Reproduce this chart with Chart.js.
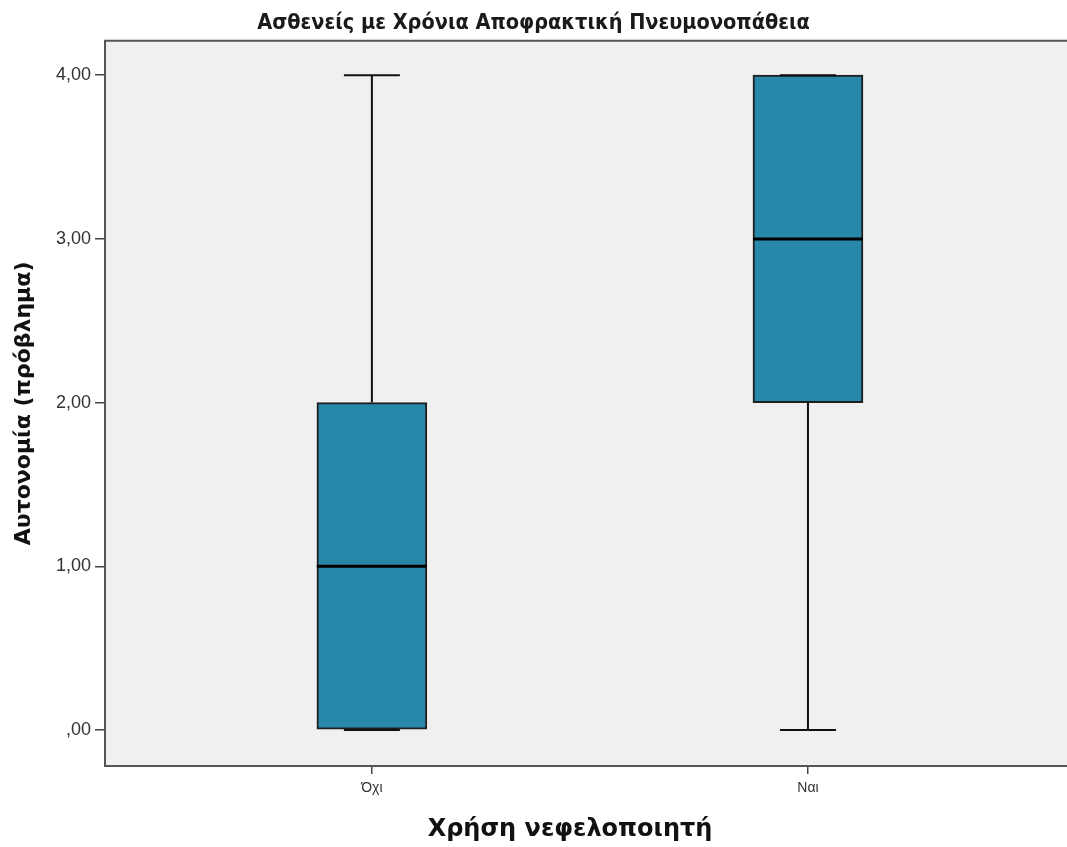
<!DOCTYPE html>
<html>
<head>
<meta charset="utf-8">
<script src="https://cdn.jsdelivr.net/npm/chart.js@4.4.1/dist/chart.umd.min.js"></script>
<style>
  html, body { margin: 0; padding: 0; background: #ffffff; }
  #wrap { width: 1067px; height: 847px; position: relative; }
</style>
</head>
<body>
<div id="wrap"><canvas id="c"></canvas></div>
<script>
// Box-plot summary per group
const categories   = ['Όχι', 'Ναι'];
const whiskerLow   = [0, 0];
const q1           = [0, 2];
const median       = [1, 3];
const q3           = [2, 4];
const whiskerHigh  = [4, 4];

// Y axis ticks and their labels
const yTicks      = [0, 1, 2, 3, 4];
const yTickLabels = [',00', '1,00', '2,00', '3,00', '4,00'];

const BOX_FILL   = '#2788aa';
const BOX_EDGE   = '#1e1e1e';
const FRAME      = '#555555';
const CAP_HALF   = 28;

const boxPlotPlugin = {
  id: 'boxPlot',
  beforeDraw(chart) {
    const { ctx, chartArea: a } = chart;
    ctx.save();
    ctx.fillStyle = '#f0f0f0';
    ctx.fillRect(a.left, a.top, a.right - a.left, a.bottom - a.top);
    ctx.restore();
  },
  afterDatasetsDraw(chart) {
    const { ctx, scales: { x, y } } = chart;
    const meta = chart.getDatasetMeta(0);
    ctx.save();
    categories.forEach((c, i) => {
      const cx = x.getPixelForValue(i);
      const half = meta.data[i].width / 2;
      ctx.strokeStyle = '#111';
      ctx.lineWidth = 2;
      // whiskers
      ctx.beginPath();
      ctx.moveTo(cx, y.getPixelForValue(q3[i]));
      ctx.lineTo(cx, y.getPixelForValue(whiskerHigh[i]));
      ctx.moveTo(cx, y.getPixelForValue(q1[i]));
      ctx.lineTo(cx, y.getPixelForValue(whiskerLow[i]));
      ctx.stroke();
      // caps
      ctx.beginPath();
      const yh = y.getPixelForValue(whiskerHigh[i]);
      const yl = y.getPixelForValue(whiskerLow[i]);
      ctx.moveTo(cx - CAP_HALF, yh); ctx.lineTo(cx + CAP_HALF, yh);
      ctx.moveTo(cx - CAP_HALF, yl); ctx.lineTo(cx + CAP_HALF, yl);
      ctx.stroke();
      // median
      ctx.lineWidth = 3;
      ctx.strokeStyle = '#000';
      const ym = y.getPixelForValue(median[i]);
      ctx.beginPath();
      ctx.moveTo(cx - half, ym); ctx.lineTo(cx + half, ym);
      ctx.stroke();
    });
    ctx.restore();
  },
  afterDraw(chart) {
    const { ctx, chartArea: a } = chart;
    ctx.save();
    ctx.strokeStyle = FRAME;
    ctx.lineWidth = 2;
    ctx.beginPath();
    ctx.moveTo(a.left - 1, a.top);
    ctx.lineTo(a.right, a.top);
    ctx.stroke();
    // x axis title
    ctx.fillStyle = '#111';
    ctx.font = 'bold 24px "DejaVu Sans"';
    ctx.textAlign = 'center';
    ctx.textBaseline = 'middle';
    ctx.fillText('Χρήση νεφελοποιητή', 570, 830);
    ctx.restore();
  }
};

new Chart(document.getElementById('c'), {
  type: 'bar',
  data: {
    datasets: [{
      data: categories.map((c, i) => ({ x: i, y: [q1[i], q3[i]] })),
      backgroundColor: BOX_FILL,
      borderColor: BOX_EDGE,
      borderWidth: 2,
      borderSkipped: false,
      barThickness: 110
    }]
  },
  options: {
    responsive: true,
    maintainAspectRatio: false,
    animation: false,
    layout: { padding: 0 },
    plugins: {
      legend: { display: false },
      tooltip: { enabled: false },
      title: {
        display: true,
        text: 'Ασθενείς με Χρόνια Αποφρακτική Πνευμονοπάθεια',
        color: '#1a1a1a',
        font: { family: '"DejaVu Sans Condensed", sans-serif', size: 21.5, weight: 'bold' },
        padding: { top: 11, bottom: 4 }
      }
    },
    scales: {
      x: {
        type: 'linear',
        offset: false,
        min: -0.612,
        max: 1.594,
        afterBuildTicks(s) { s.ticks = categories.map((c, i) => ({ value: i })); },
        afterFit(s) { s.height = 81; },
        ticks: {
          callback: (v) => categories[v],
          color: '#333',
          font: { family: '"Liberation Sans", Arial, sans-serif', size: 14 },
          padding: 6,
          maxRotation: 0
        },
        grid: { display: true, offset: false, drawOnChartArea: false, drawTicks: true, tickLength: 8, color: '#444', lineWidth: 1.5 },
        border: { display: true, color: FRAME, width: 2 }
      },
      y: {
        min: -0.22,
        max: 4.21,
        afterBuildTicks(s) { s.ticks = yTicks.map(v => ({ value: v })); },
        afterFit(s) { s.width = 105; },
        ticks: {
          callback: (v) => yTickLabels[yTicks.indexOf(v)],
          color: '#333',
          font: { family: '"Liberation Sans", Arial, sans-serif', size: 18 },
          padding: 4
        },
        grid: { display: true, drawOnChartArea: false, drawTicks: true, tickLength: 10, color: '#444', lineWidth: 1.5 },
        border: { display: true, color: FRAME, width: 2 },
        title: {
          display: true,
          text: 'Αυτονομία (πρόβλημα)',
          color: '#111',
          font: { family: '"DejaVu Sans", sans-serif', size: 22, weight: 'bold' },
          padding: { top: 11, bottom: 0 }
        }
      }
    }
  },
  plugins: [boxPlotPlugin]
});
</script>
</body>
</html>
